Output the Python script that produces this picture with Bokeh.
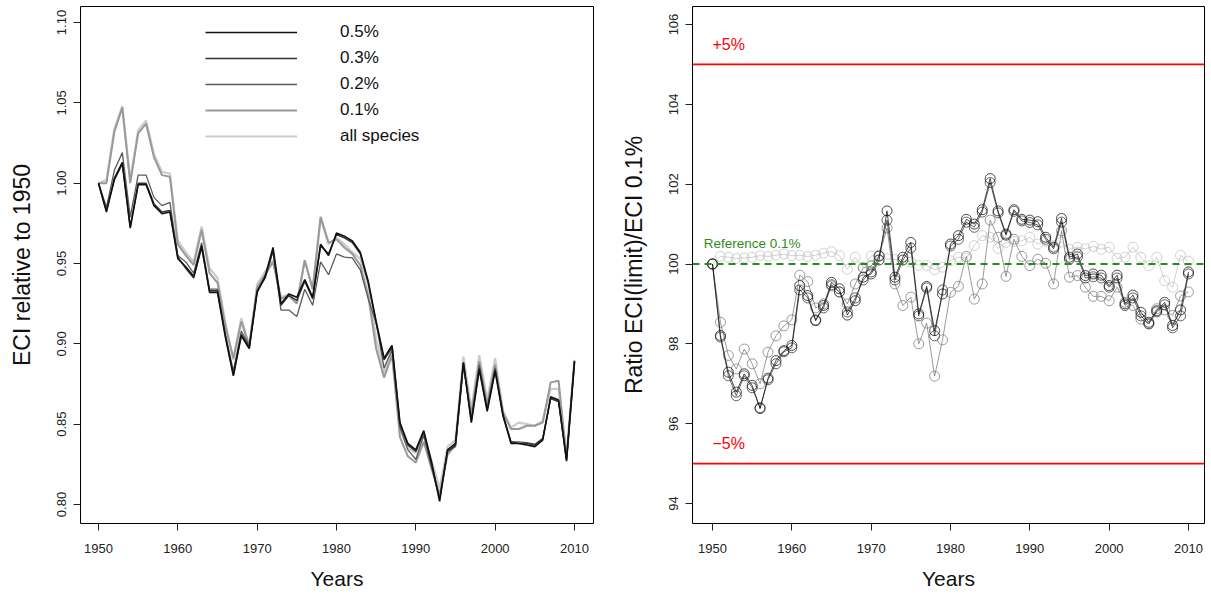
from bokeh.plotting import figure
from bokeh.models import FixedTicker, Legend, LegendItem, Label, Span, Range1d, CustomJSTickFormatter
from bokeh.layouts import row
from bokeh.embed import file_html
from bokeh.resources import INLINE

years = list(range(1950, 2011))

# Left panel: ECI relative to 1950
eci_05 = [1.000, 0.982, 1.003, 1.013, 0.972, 0.999, 0.999, 0.986, 0.981, 0.982,
          0.953, 0.948, 0.942, 0.961, 0.932, 0.932, 0.904, 0.880, 0.905, 0.897,
          0.932, 0.942, 0.960, 0.925, 0.931, 0.929, 0.940, 0.929, 0.962, 0.955,
          0.969, 0.967, 0.964, 0.957, 0.939, 0.914, 0.891, 0.899, 0.851, 0.838,
          0.834, 0.846, 0.826, 0.802, 0.834, 0.838, 0.8885, 0.851, 0.884, 0.858,
          0.883, 0.855, 0.838, 0.838, 0.837, 0.836, 0.840, 0.867, 0.865, 0.827,
          0.889]
eci_03 = [1.000, 0.983, 1.002, 1.012, 0.973, 1.000, 1.000, 0.987, 0.982, 0.983,
          0.954, 0.947, 0.941, 0.960, 0.933, 0.933, 0.905, 0.881, 0.906, 0.898,
          0.933, 0.941, 0.958, 0.924, 0.930, 0.927, 0.939, 0.928, 0.961, 0.956,
          0.968, 0.966, 0.963, 0.956, 0.938, 0.913, 0.890, 0.898, 0.850, 0.837,
          0.833, 0.845, 0.825, 0.803, 0.833, 0.837, 0.888, 0.852, 0.885, 0.859,
          0.884, 0.856, 0.839, 0.838, 0.838, 0.837, 0.841, 0.866, 0.864, 0.828,
          0.889]
eci_02 = [1.000, 0.985, 1.008, 1.019, 0.979, 1.005, 1.005, 0.991, 0.986, 0.988,
          0.955, 0.951, 0.944, 0.963, 0.934, 0.934, 0.906, 0.883, 0.908, 0.899,
          0.933, 0.941, 0.958, 0.921, 0.921, 0.917, 0.934, 0.924, 0.951, 0.943,
          0.956, 0.954, 0.9535, 0.946, 0.928, 0.913, 0.885, 0.896, 0.848, 0.834,
          0.828, 0.843, 0.823, 0.804, 0.833, 0.836, 0.887, 0.853, 0.887, 0.860,
          0.885, 0.855, 0.839, 0.839, 0.8385, 0.8375, 0.841, 0.866, 0.864, 0.828,
          0.8895]
eci_01 = [1.000, 1.000, 1.032, 1.047, 1.000, 1.031, 1.037, 1.016, 1.005, 1.004,
          0.962, 0.955, 0.949, 0.971, 0.944, 0.938, 0.911, 0.891, 0.914, 0.899,
          0.935, 0.943, 0.951, 0.928, 0.930, 0.925, 0.952, 0.934, 0.979, 0.963,
          0.965, 0.960, 0.956, 0.949, 0.930, 0.897, 0.879, 0.893, 0.842, 0.830,
          0.826, 0.839, 0.822, 0.806, 0.831, 0.837, 0.888, 0.856, 0.889, 0.862,
          0.887, 0.857, 0.847, 0.847, 0.849, 0.849, 0.851, 0.876, 0.877, 0.829,
          0.889]
eci_all = [1.000, 1.002, 1.034, 1.048, 1.002, 1.033, 1.039, 1.018, 1.007, 1.006,
           0.964, 0.957, 0.951, 0.973, 0.947, 0.941, 0.913, 0.890, 0.916, 0.898,
           0.937, 0.945, 0.952, 0.929, 0.931, 0.925, 0.952, 0.934, 0.978, 0.962,
           0.966, 0.962, 0.957, 0.953, 0.937, 0.903, 0.882, 0.898, 0.847, 0.835,
           0.832, 0.843, 0.827, 0.810, 0.836, 0.840, 0.892, 0.859, 0.893, 0.865,
           0.891, 0.858, 0.848, 0.851, 0.850, 0.849, 0.852, 0.872, 0.872, 0.831,
           0.890]

# Right panel: ratio ECI(limit)/ECI 0.1% (x100)
r_05 = [100.0, 98.21, 97.29, 96.79, 97.25, 96.96, 96.38, 97.14, 97.58, 97.83,
        97.96, 99.46, 99.21, 98.58, 98.96, 99.54, 99.38, 98.72, 99.08, 99.67,
        99.75, 100.1, 101.33, 99.67, 100.17, 100.54, 98.75, 99.44, 98.33, 99.25,
        100.5, 100.71, 101.12, 101.0, 101.36, 102.14, 101.33, 100.75, 101.36, 101.12,
        101.1, 101.06, 100.67, 100.42, 101.14, 100.17, 100.25, 99.71, 99.75, 99.72,
        99.46, 99.72, 99.0, 99.22, 98.79, 98.54, 98.83, 99.04, 98.46, 98.85,
        99.8]
r_03 = [100.0, 98.17, 97.2, 96.7, 97.2, 96.9, 96.4, 97.1, 97.5, 97.8,
        97.9, 99.35, 99.15, 98.6, 98.9, 99.48, 99.3, 98.8, 99.15, 99.6,
        99.8, 100.2, 101.1, 99.6, 100.1, 100.4, 98.7, 99.4, 98.2, 99.35,
        100.45, 100.62, 101.05, 100.92, 101.3, 102.04, 101.28, 100.72, 101.32, 101.08,
        101.04, 100.98, 100.62, 100.38, 101.05, 100.12, 100.18, 99.65, 99.68, 99.65,
        99.42, 99.65, 98.96, 99.15, 98.7, 98.5, 98.8, 98.98, 98.4, 98.7,
        99.75]
r_02 = [100.0, 98.54, 97.71, 97.37, 97.87, 97.5, 97.0, 97.79, 98.2, 98.45,
        98.6, 99.72, 99.56, 98.9, 99.0, 99.45, 99.3, 99.0, 99.5, 99.9,
        99.95, 100.2, 100.9, 99.5, 98.96, 99.17, 98.0, 98.52, 97.19, 98.1,
        99.29, 99.44, 100.19, 99.12, 99.5, 101.1, 100.67, 99.69, 100.62, 100.19,
        99.96, 100.12, 100.02, 99.5, 100.83, 99.67, 99.71, 99.42, 99.19, 99.19,
        99.08, 99.42, 99.04, 98.96, 98.62, 98.5, 98.88, 98.85, 98.71, 99.2,
        99.3]
r_all = [100.0, 100.19, 100.17, 100.14, 100.15, 100.17, 100.21, 100.19, 100.22, 100.25,
         100.21, 100.22, 100.19, 100.22, 100.27, 100.31, 100.21, 99.87, 100.17, 99.92,
         100.2, 100.22, 100.13, 100.11, 100.1, 100.05, 99.97, 99.96, 99.86, 99.92,
         100.08, 100.17, 100.14, 100.46, 100.71, 100.67, 100.39, 100.54, 100.56, 100.58,
         100.67, 100.5, 100.58, 100.46, 100.55, 100.37, 100.42, 100.38, 100.44, 100.37,
         100.42, 100.14, 100.17, 100.42, 100.17, 99.96, 100.17, 99.58, 99.42, 100.22,
         100.07]

x_ticks = [1950, 1960, 1970, 1980, 1990, 2000, 2010]
left_y_ticks = [0.80, 0.85, 0.90, 0.95, 1.00, 1.05, 1.10]
right_y_ticks = [94, 96, 98, 100, 102, 104, 106]
legend_labels = ["0.5%", "0.3%", "0.2%", "0.1%", "all species"]

FONT = "Liberation Sans"
FH = 517
BT = 6
BB = 69
H = BT + FH + BB


def style(p, xlabel, ylabel):
    p.outline_line_color = "black"
    p.outline_line_width = 1
    p.xgrid.visible = False
    p.ygrid.visible = False
    p.background_fill_color = "white"
    p.border_fill_color = "white"
    for ax in (p.xaxis[0], p.yaxis[0]):
        ax.axis_line_color = None
        ax.major_tick_in = 0
        ax.major_tick_out = 7
        ax.minor_tick_line_color = None
        ax.major_tick_line_color = "#222222"
        ax.major_label_text_font = FONT
        ax.major_label_text_font_size = "13px"
        ax.major_label_text_color = "#222222"
        ax.axis_label_text_font = FONT
        ax.axis_label_text_font_style = "normal"
        ax.axis_label_text_color = "#111111"
    p.xaxis.axis_label = xlabel
    p.yaxis.axis_label = ylabel
    p.xaxis.axis_label_text_font_size = "21px"
    p.yaxis.axis_label_text_font_size = "23px"
    p.xaxis.ticker = FixedTicker(ticks=x_ticks)
    p.xaxis.major_label_standoff = 13
    p.xaxis.axis_label_standoff = 11
    p.yaxis.major_label_orientation = "vertical"
    p.yaxis.major_label_standoff = 7
    p.yaxis.axis_label_standoff = 20


# ---------------- Left figure ----------------
p1 = figure(width=612, height=H, output_backend="svg", toolbar_location=None,
            x_range=Range1d(1947.73, 2012.40), y_range=Range1d(0.78817, 1.10996),
            min_border_left=80, min_border_right=19, min_border_top=BT, min_border_bottom=BB)
style(p1, "Years", "ECI relative to 1950")
p1.yaxis.ticker = FixedTicker(ticks=left_y_ticks)
p1.yaxis.formatter = CustomJSTickFormatter(code="return tick.toFixed(2);")

r_all_l = p1.line(years, eci_all, line_color="#cccccc", line_width=2.2)
r_01_l = p1.line(years, eci_01, line_color="#999999", line_width=2.0)
r_02_l = p1.line(years, eci_02, line_color="#5a5a5a", line_width=1.3)
r_03_l = p1.line(years, eci_03, line_color="#333333", line_width=1.5)
r_05_l = p1.line(years, eci_05, line_color="#111111", line_width=1.6)

legend = Legend(items=[
    LegendItem(label=legend_labels[0], renderers=[r_05_l]),
    LegendItem(label=legend_labels[1], renderers=[r_03_l]),
    LegendItem(label=legend_labels[2], renderers=[r_02_l]),
    LegendItem(label=legend_labels[3], renderers=[r_01_l]),
    LegendItem(label=legend_labels[4], renderers=[r_all_l]),
], location=(125, FH - 16 - 124))
legend.border_line_color = None
legend.background_fill_alpha = 0
legend.glyph_width = 92
legend.glyph_height = 20
legend.label_height = 20
legend.spacing = 6
legend.padding = 0
legend.margin = 0
legend.label_standoff = 43
legend.label_text_font = FONT
legend.label_text_font_size = "17px"
legend.label_text_color = "#111111"
p1.add_layout(legend)

# ---------------- Right figure ----------------
p2 = figure(width=593, height=H, output_backend="svg", toolbar_location=None,
            x_range=Range1d(1947.48, 2012.02), y_range=Range1d(93.499, 106.451),
            min_border_left=80, min_border_right=1, min_border_top=BT, min_border_bottom=BB)
style(p2, "Years", "Ratio ECI(limit)/ECI 0.1%")
p2.yaxis.ticker = FixedTicker(ticks=right_y_ticks)

p2.add_layout(Span(location=105, dimension="width", line_color="red", line_width=1.6))
p2.add_layout(Span(location=95, dimension="width", line_color="red", line_width=1.6))
p2.add_layout(Span(location=100, dimension="width", line_color="#228B22", line_width=2,
                   line_dash="7 5"))

series = [
    (r_all, "#bdbdbd", 0.7),
    (r_02, "#7a7a7a", 0.75),
    (r_03, "#333333", 0.75),
    (r_05, "#111111", 0.75),
]
for vals, col, a in series:
    p2.line(years, vals, line_color=col, line_width=1.0, line_alpha=a)
    p2.scatter(years, vals, marker="circle", size=10, fill_color=None,
               line_color=col, line_alpha=a, line_width=1.0)

p2.add_layout(Label(x=1950, y=105.5, text="+5%", text_color="red", text_font=FONT,
                    text_font_size="16px", text_baseline="middle"))
p2.add_layout(Label(x=1950, y=95.5, text="\u22125%", text_color="red", text_font=FONT,
                    text_font_size="16px", text_baseline="middle"))
p2.add_layout(Label(x=1948.9, y=100.52, text="Reference 0.1%", text_color="#2e8b22",
                    text_font=FONT, text_font_size="13.5px", text_baseline="middle"))

layout = row(p1, p2)
open("out.html", "w").write(file_html(layout, INLINE))
